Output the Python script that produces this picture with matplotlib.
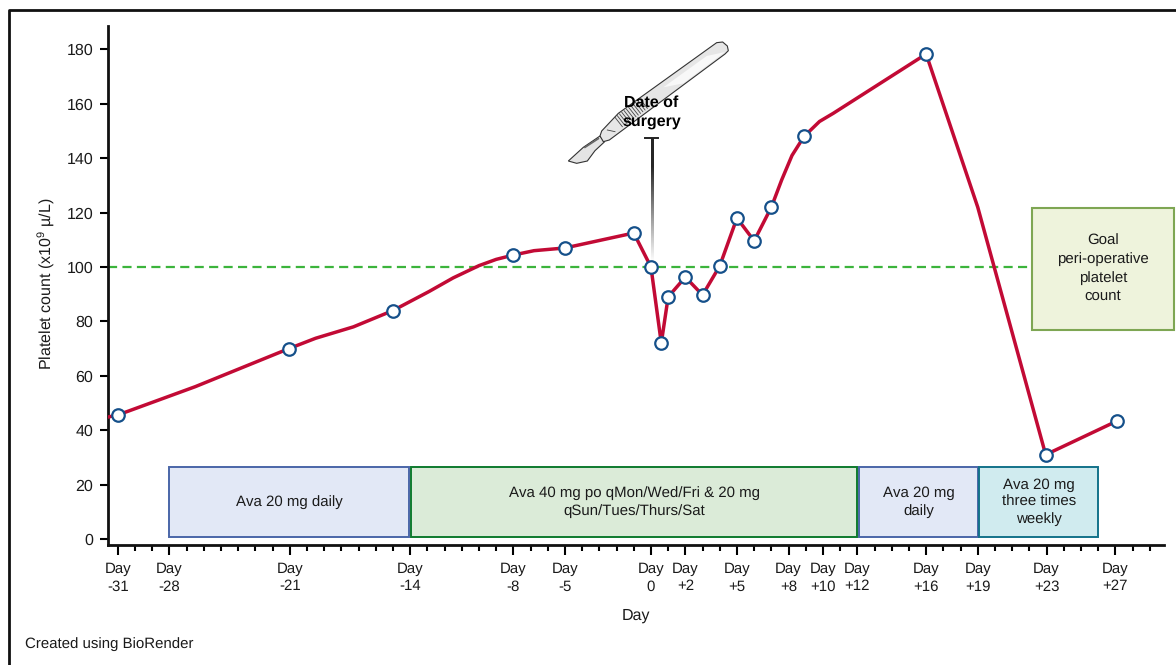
import numpy as np
import matplotlib
matplotlib.use('Agg')
import matplotlib.pyplot as plt
from matplotlib.lines import Line2D
from matplotlib.patches import Polygon, Rectangle
from matplotlib import font_manager

# Marked platelet counts
pointDays = [-31, -21.05, -15, -8, -5, -1, 0, 0.6, 1, 2, 3, 4, 5, 6, 7, 8.9, 16, 22.95, 27.1]
pointCounts = [45.6, 70, 84, 104.4, 107, 112.5, 100, 72, 89, 96.3, 89.7, 100.4, 118, 109.6, 122, 148, 178.3, 31, 43.4]

# Curve, including the bends between the markers
lineDays = [-31.6, -31, -26.5, -21.05, -19.5, -17.3, -15, -12.9, -11.5, -10, -9, -8, -6.8, -5, -1, 0, 0.6, 1, 2, 3, 4, 5,
            6, 7, 7.6, 8.2, 8.9, 9.8, 10.6, 16, 19, 22.95, 27.1]
lineCounts = [44.8, 45.6, 56, 70, 73.8, 78, 84, 91, 96, 100.5, 102.8, 104.4, 106, 107, 112.5, 100, 72, 89, 96.3, 89.7,
              100.4, 118, 109.6, 122, 132, 141, 148, 153.5, 156.5, 178.3, 122, 31, 43.4]

# Tick labels
tickDays = [-31, -28, -21, -14, -8, -5, 0, 2, 5, 8, 10, 12, 16, 19, 23, 27]
tickNames = ['-31', '-28', '-21', '-14', '-8', '-5', '0', '+2', '+5', '+8', '+10', '+12', '+16', '+19', '+23', '+27']
countTicks = [0, 20, 40, 60, 80, 100, 120, 140, 160, 180]

# Treatment periods
treatStart = [-28, -13.95, 12.1, 19.1]
treatEnd = [-14.05, 12, 19, 26]
treatNames = ['Ava 20 mg daily', 'Ava 40 mg po qMon/Wed/Fri & 20 mg\nqSun/Tues/Thurs/Sat', 'Ava 20 mg\ndaily',
              'Ava 20 mg\nthree times\nweekly']
treatFill = ['#e2e8f6', '#dbebd8', '#e2e8f6', '#d0ebef']
treatEdge = ['#4a66a8', '#0e7a2e', '#4a66a8', '#13728a']

goalCount = 100

W, H = 1176, 665
names = {f.name for f in font_manager.fontManager.ttflist}
narrow = 'Liberation Sans Narrow' if 'Liberation Sans Narrow' in names else 'Liberation Sans'
plt.rcParams['font.family'] = ['Liberation Sans', 'DejaVu Sans']
plt.rcParams['text.hinting'] = 'no_hinting'
plt.rcParams['text.hinting_factor'] = 1
plt.rcParams['mathtext.fontset'] = 'custom'
plt.rcParams['mathtext.rm'] = narrow
plt.rcParams['mathtext.default'] = 'rm'
textCol = '#1a1a1a'

fig = plt.figure(figsize=(W / 100, H / 100), dpi=100)
ax = fig.add_axes([108 / W, 1 - 545 / H, (1164 - 108) / W, (545 - 26) / H])
ax.set_xlim(-31.57, 29.83)
ax.set_ylim(-2.2, 188.6)

for s in ['top', 'right']:
	ax.spines[s].set_visible(False)
for s in ['left', 'bottom']:
	ax.spines[s].set_linewidth(2)
	ax.spines[s].set_color('#111111')

ax.set_xticks(tickDays)
ax.set_xticklabels([f'Day\n{n}' for n in tickNames], fontsize=10.9, color=textCol, linespacing=1.3)
ax.set_xticks(np.arange(-31, 30), minor=True)
ax.set_yticks(countTicks)
ax.tick_params(axis='x', which='major', length=7, width=1.5, pad=5.5)
ax.tick_params(axis='x', which='minor', length=4, width=1.5)
ax.tick_params(axis='y', length=6, width=1.5, pad=4.5, labelsize=11.2, labelcolor=textCol)

# Treatment boxes
for i in range(len(treatNames)):
	ax.add_patch(Rectangle((treatStart[i], 0.7), treatEnd[i] - treatStart[i], 25.8, facecolor=treatFill[i],
						   edgecolor=treatEdge[i], linewidth=1.4, zorder=2))
	ax.text((treatStart[i] + treatEnd[i]) / 2, 13.6, treatNames[i], ha='center', va='center', fontsize=10.9,
			color=textCol, linespacing=1.3, zorder=3)

# Goal line and curve
ax.plot([-31.57, 22.15], [goalCount, goalCount], color='#3cb43c', linewidth=1.6, dashes=(4.1, 2.4), zorder=2)
ax.plot(lineDays, lineCounts, color='#c20a35', linewidth=2.5, solid_joinstyle='round', zorder=4)
ax.plot(pointDays, pointCounts, 'o', markersize=9, markerfacecolor='white', markeredgecolor='#15508a',
		markeredgewidth=1.6, linestyle='none', zorder=5, clip_on=False)

# Overlay in picture pixels, for the frame and the annotations
ov = fig.add_axes([0, 0, 1, 1], facecolor='none')
ov.axis('off')

ov.add_line(Line2D([9, 9, W], [H, 10, 10], color='#111111', linewidth=2))
ov.text(25, 644, 'Created using BioRender', fontsize=11.1, color=textCol, va='center', ha='left')
ov.text(636, 616, 'Day', family=narrow, fontsize=11.5, color=textCol, ha='center', va='center')
ov.text(46, 284, 'Platelet count (x10$^{9}$ µ/L)', family=narrow, fontsize=11.4, color=textCol, rotation=90,
		ha='center', va='center')

# Goal box
ov.add_patch(Rectangle((1032, 208), 142, 122, facecolor='#eef3dc', edgecolor='#7ea653', linewidth=1.5, zorder=3))
ov.text(1103, 268.5, 'Goal\nperi-operative\nplatelet\ncount', ha='center', va='center', fontsize=11, color=textCol,
		linespacing=1.4, zorder=4)

# Scalpel, drawn from the crop coordinates
def sc(pts):
	return [(550 + x / 3, 30 + y / 3) for x, y in pts]

ov.add_patch(Polygon(sc([(150, 318), (100, 352), (55, 393), (80, 400), (112, 393), (135, 362), (164, 335)]),
					 facecolor='#e4e4e4', edgecolor='#333333', linewidth=0.8))
ov.add_patch(Polygon(sc([(500, 38), (518, 36), (532, 48), (535, 62), (525, 72), (225, 295), (178, 330), (160, 335),
						 (150, 318), (155, 303), (205, 250)]),
					 facecolor='#e6e6e6', edgecolor='#333333', linewidth=0.8, joinstyle='round'))
ov.add_patch(Polygon(sc([(470, 78), (525, 66), (400, 160), (340, 172)]), facecolor='#f8f8f8', edgecolor='none'))
for t in np.linspace(0, 1, 12):
	x0, y0 = 195 + 75 * t, 262 - 55 * t
	ov.add_line(Line2D([550 + x0 / 3, 550 + (x0 + 22) / 3], [30 + y0 / 3, 30 + (y0 + 28) / 3], color='#444444', linewidth=0.6))
ov.add_line(Line2D(*zip(*sc([(172, 300), (195, 305)])), color='#444444', linewidth=0.6))
ov.add_line(Line2D(*zip(*sc([(105, 352), (145, 326)])), color='#666666', linewidth=1.2))

# Surgery marker
ov.add_line(Line2D([645, 658], [138, 138], color='#222222', linewidth=1.4))
grad = np.zeros((128, 1, 4))
grad[:, 0, 3] = np.clip(np.linspace(1.3, 0, 128), 0, 1)
grad[:, 0, :3] = 0.15
ov.imshow(grad, extent=[650.5, 653, 262, 138], aspect='auto', interpolation='bilinear')
ov.text(651.5, 103, 'Date of', fontsize=11.2, fontweight='bold', color='black', ha='center', va='center')
ov.text(651.5, 123, 'surgery', fontsize=11.2, fontweight='bold', color='black', ha='center', va='center')

ov.set_xlim(0, W)
ov.set_ylim(H, 0)

fig.savefig('out.png', dpi=100)
